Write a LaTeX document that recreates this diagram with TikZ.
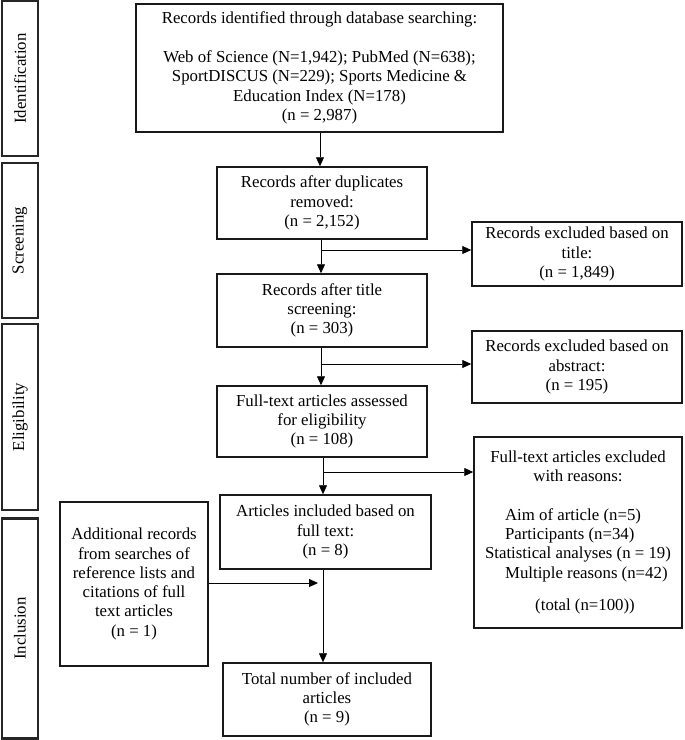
\documentclass[tikz,border=0pt]{standalone}
\usepackage{fontspec}
\setmainfont{Liberation Serif}
\usepackage{calc}
\usetikzlibrary{arrows.meta}
\tikzset{
  box/.style={draw=black!90, line width=1.5pt, align=center, inner sep=0pt,
    font=\fontsize{16.8}{19.3}\selectfont},
  side/.style={draw=black!85, line width=2.2pt, inner sep=0pt},
  sidelabel/.style={rotate=90, font=\fontsize{16.8}{19.3}\selectfont},
  flow/.style={line width=0.8pt, -{Triangle[length=9pt,width=8pt]}},
  plain/.style={line width=0.8pt}
}
\begin{document}
\begin{tikzpicture}[x=1pt,y=-1pt]
\useasboundingbox (0,0) rectangle (685,740);
% phase boxes
\node[side, minimum width=36pt, minimum height=155pt] (sid) at (20,78.5) {};
\node[sidelabel] (lid) at (sid.center) {Identification};
\node[side, minimum width=36pt, minimum height=155pt] (ssc) at (20,240.5) {};
\node[sidelabel] (lsc) at (ssc.center) {Screening};
\node[side, minimum width=36pt, minimum height=186pt] (sel) at (20,417) {};
\node[sidelabel] (lel) at (sel.center) {Eligibility};
\node[side, minimum width=36pt, minimum height=220pt] (sin) at (20,628.5) {};
\node[sidelabel] (lin) at (sin.center) {Inclusion};
% main boxes
\node[box, minimum width=367pt, minimum height=128pt] (b1) at (319.5,68)
 {Records identified through database searching:\\[19.3pt]
  Web of Science (N=1,942); PubMed (N=638);\\
  SportDISCUS (N=229); Sports Medicine \&\\
  Education Index (N=178)\\
  (n = 2,987)};
\node[box, minimum width=210pt, minimum height=72pt] (b2) at (322,203)
 {Records after duplicates\\removed:\\(n = 2,152)};
\node[box, minimum width=210pt, minimum height=73pt] (b3) at (322,310.5)
 {Records after title\\screening:\\(n = 303)};
\node[box, minimum width=210pt, minimum height=71pt] (b4) at (322,421.5)
 {Full-text articles assessed\\for eligibility\\(n = 108)};
\node[box, minimum width=211pt, minimum height=74pt] (b5) at (325.5,532)
 {Articles included based on\\full text:\\(n = 8)};
\node[box, minimum width=208pt, minimum height=73pt] (b6) at (327,699.5)
 {Total number of included\\articles\\(n = 9)};
\node[box, minimum width=210pt, minimum height=64pt] (r1) at (577,254)
 {Records excluded based on\\title:\\(n = 1,849)};
\node[box, minimum width=210pt, minimum height=72pt] (r2) at (577,367)
 {Records excluded based on\\abstract:\\(n = 195)};
\node[box, minimum width=208pt, minimum height=191pt] (r3) at (578,532.5)
 {Full-text articles excluded\\with reasons:\\[19.3pt]
  \makebox[\widthof{Statistical analyses (n = 19)}][l]{\hspace{20pt}Aim of article (n=5)}\\
  \makebox[\widthof{Statistical analyses (n = 19)}][l]{\hspace{20pt}Participants (n=34)}\\
  Statistical analyses (n = 19)\\
  \makebox[\widthof{Statistical analyses (n = 19)}][l]{\hspace{20pt}Multiple reasons (n=42)}\\[13pt]
  \hspace{14pt}(total (n=100))};
\node[box, minimum width=148pt, minimum height=164pt] (ad) at (134,584)
 {Additional records\\from searches of\\reference lists and\\citations of full\\text articles\\(n = 1)};
% connectors
\coordinate (j1) at (321,250);
\coordinate (j2) at (321,364);
\coordinate (j3) at (323,472);
\coordinate (j4) at (323,583);
\draw[flow] (b1.south -| 320,0) -- (b2.north -| 320,0);
\draw[flow] (b2.south -| j1) -- (b3.north -| j1);
\draw[flow] (j1) -- (j1 -| r1.west);
\draw[flow] (b3.south -| j2) -- (b4.north -| j2);
\draw[flow] (j2) -- (j2 -| r2.west);
\draw[flow] (b4.south -| j3) -- (b5.north -| j3);
\draw[flow] (j3) -- (j3 -| r3.west);
\draw[flow] (b5.south -| j4) -- (b6.north -| j4);
\draw[flow] (ad.east |- j4) -- ([xshift=-5pt]j4);
\end{tikzpicture}
\end{document}
